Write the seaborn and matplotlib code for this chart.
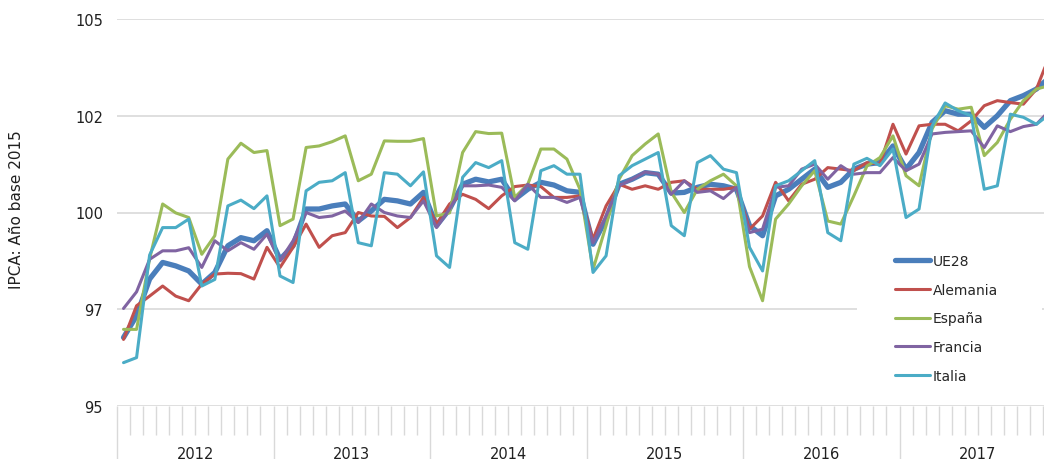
import numpy as np
import pandas as pd
import matplotlib
matplotlib.use("Agg")
import matplotlib.pyplot as plt
from matplotlib.patches import Rectangle
from matplotlib.ticker import FixedLocator, NullFormatter
import seaborn as sns

# Índice de precios (IPCA), base 2015 = 100, datos mensuales ene-2012 a dic-2017
anios = [2012, 2013, 2014, 2015, 2016, 2017]

ue28 = [96.77, 97.33, 98.28, 98.71, 98.62, 98.49, 98.15, 98.45, 99.14, 99.35, 99.27, 99.53,
        98.79, 99.14, 100.09, 100.09, 100.17, 100.22, 99.78, 100.04, 100.34, 100.30, 100.22, 100.52,
        99.66, 100.09, 100.73, 100.86, 100.79, 100.86, 100.34, 100.60, 100.78, 100.71, 100.56, 100.52,
        99.18, 99.83, 100.73, 100.86, 101.03, 100.99, 100.50, 100.52, 100.65, 100.73, 100.69, 100.60,
        99.66, 99.40, 100.43, 100.60, 100.86, 101.12, 100.65, 100.78, 101.12, 101.25, 101.29, 101.72,
        101.12, 101.55, 102.33, 102.63, 102.54, 102.54, 102.20, 102.50, 102.89, 103.02, 103.19, 103.49]

alemania = [96.72, 97.59, 97.84, 98.10, 97.84, 97.72, 98.15, 98.41, 98.43, 98.42, 98.28, 99.10,
            98.58, 99.10, 99.70, 99.10, 99.40, 99.48, 100.00, 99.91, 99.90, 99.61, 99.87, 100.39,
            99.70, 100.22, 100.47, 100.34, 100.10, 100.43, 100.67, 100.71, 100.67, 100.39, 100.39, 100.43,
            99.31, 100.17, 100.73, 100.60, 100.69, 100.60, 100.78, 100.82, 100.60, 100.60, 100.60, 100.65,
            99.57, 99.91, 100.78, 100.30, 100.73, 100.86, 101.16, 101.12, 101.08, 101.29, 101.25, 102.28,
            101.51, 102.24, 102.28, 102.28, 102.11, 102.37, 102.76, 102.89, 102.84, 102.80, 103.19, 104.05]

espana = [96.98, 96.98, 98.80, 100.22, 99.99, 99.87, 98.92, 99.40, 101.38, 101.79, 101.55, 101.60,
          99.66, 99.83, 101.68, 101.72, 101.83, 101.98, 100.82, 100.99, 101.85, 101.84, 101.84, 101.91,
          99.91, 99.99, 101.55, 102.09, 102.04, 102.05, 100.39, 100.73, 101.64, 101.64, 101.38, 100.60,
          98.53, 99.66, 100.86, 101.47, 101.77, 102.03, 100.52, 100.00, 100.60, 100.82, 100.99, 100.69,
          98.60, 97.72, 99.83, 100.22, 100.69, 101.08, 99.78, 99.70, 100.43, 101.20, 101.42, 101.98,
          100.95, 100.69, 102.16, 102.76, 102.67, 102.72, 101.47, 101.81, 102.41, 102.89, 103.19, 103.28]

francia = [97.52, 97.95, 98.79, 99.01, 99.01, 99.09, 98.58, 99.27, 99.01, 99.22, 99.05, 99.44,
           98.75, 99.27, 100.00, 99.87, 99.91, 100.04, 99.74, 100.22, 100.00, 99.91, 99.87, 100.30,
           99.61, 100.09, 100.69, 100.69, 100.71, 100.65, 100.30, 100.73, 100.39, 100.39, 100.26, 100.39,
           99.22, 99.91, 100.69, 100.86, 101.05, 100.99, 100.47, 100.82, 100.52, 100.56, 100.36, 100.65,
           99.48, 99.57, 100.65, 100.69, 101.12, 101.25, 100.86, 101.21, 100.99, 101.03, 101.03, 101.42,
           101.08, 101.25, 102.03, 102.07, 102.09, 102.11, 101.68, 102.24, 102.09, 102.22, 102.28, 102.63]

italia = [96.12, 96.25, 98.90, 99.61, 99.61, 99.83, 98.10, 98.27, 100.17, 100.32, 100.10, 100.43,
          98.36, 98.19, 100.56, 100.78, 100.82, 101.03, 99.22, 99.14, 101.03, 100.99, 100.69, 101.05,
          98.88, 98.58, 100.91, 101.29, 101.16, 101.34, 99.22, 99.05, 101.08, 101.21, 100.99, 100.99,
          98.45, 98.88, 100.95, 101.21, 101.38, 101.55, 99.66, 99.40, 101.29, 101.47, 101.12, 101.03,
          99.10, 98.49, 100.69, 100.82, 101.08, 101.34, 99.48, 99.27, 101.25, 101.40, 101.21, 101.64,
          99.87, 100.09, 102.24, 102.83, 102.63, 102.50, 100.60, 100.69, 102.54, 102.46, 102.28, 102.54]

series = {"UE28": ue28, "Alemania": alemania, "España": espana,
          "Francia": francia, "Italia": italia}
colores = {"UE28": "#4A7EBB", "Alemania": "#C0504D", "España": "#9BBB59",
           "Francia": "#8064A2", "Italia": "#4BACC6"}
grosores = {"UE28": 3.8, "Alemania": 2.2, "España": 2.2, "Francia": 2.2, "Italia": 2.2}

y_ticks = [95, 97.5, 100, 102.5, 105]
y_labels = ["95", "97", "100", "102", "105"]

sns.set_style("white")
plt.rcParams["font.family"] = ["DejaVu Sans"]

W, H = 1044, 460
fig = plt.figure(figsize=(W / 100, H / 100), dpi=100)
ax = fig.add_axes([117 / W, 53 / H, 939 / W, 387 / H])

n_meses = len(anios) * 12
for nombre, valores in series.items():
    df = pd.DataFrame({"mes": np.arange(len(valores)), "valor": valores})
    sns.lineplot(data=df, x="mes", y="valor", ax=ax, color=colores[nombre],
                 linewidth=grosores[nombre], label=nombre,
                 solid_capstyle="round", solid_joinstyle="round", zorder=2)

ax.set_xlim(-0.5, n_meses - 0.5)
ax.set_ylim(95, 105)
ax.set_xlabel("")
ax.set_ylabel("IPCA: Año base 2015", fontsize=11, color="#202020")
ax.yaxis.set_label_coords(-0.099, 0.51)

for s in ax.spines.values():
    s.set_visible(False)

ax.set_axisbelow(True)
ax.yaxis.grid(True, color="#D9D9D9", linewidth=1.2)
ax.xaxis.grid(False)
ax.set_yticks(y_ticks)
ax.set_yticklabels(y_labels)
ax.tick_params(axis="y", length=0, pad=10, labelsize=10.5, labelcolor="#202020")

# month boundaries (short) and year boundaries (long)
ax.xaxis.set_major_locator(FixedLocator(np.arange(-0.5, n_meses, 12)))
ax.xaxis.set_minor_locator(FixedLocator(np.arange(-0.5, n_meses, 1)))
ax.xaxis.set_major_formatter(NullFormatter())
ax.tick_params(axis="x", which="both", bottom=True, top=False)
ax.tick_params(axis="x", which="major", length=42, width=1, color="#D9D9D9", direction="out")
ax.tick_params(axis="x", which="minor", length=21, width=1, color="#D9D9D9", direction="out")

for k, anio in enumerate(anios):
    ax.text(k * 12 + 5.5, -52 / 387, str(anio), transform=ax.get_xaxis_transform(),
            ha="center", va="baseline", fontsize=10.5, color="#202020", clip_on=False)

# white panel behind the legend
ax.add_patch(Rectangle((0.788, 0.023), 0.197, 0.40, transform=ax.transAxes,
                       facecolor="white", edgecolor="none", zorder=1.5))

handles, labels = ax.get_legend_handles_labels()
if ax.get_legend() is not None:
    ax.get_legend().remove()
fig.legend(handles, labels, loc="upper left", bbox_to_anchor=(895 / W, 1 - 255 / H),
           frameon=False, fontsize=10, borderpad=0, handlelength=2.5,
           handletextpad=0.2, labelspacing=1.06, borderaxespad=0)

fig.savefig("out.png", dpi=100)
